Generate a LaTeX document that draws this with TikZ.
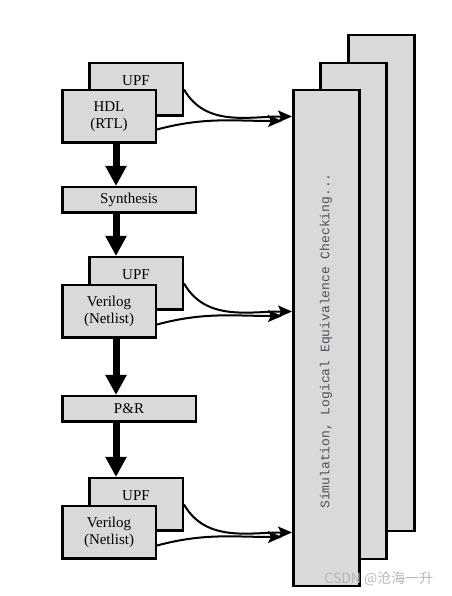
\documentclass[tikz,border=0pt]{standalone}
\usepackage{fontspec}
\setmainfont{Liberation Serif}
\newfontfamily\simfont{Liberation Mono}
\newfontfamily\markfont{Noto Sans CJK SC}
\usetikzlibrary{arrows.meta,calc}
\definecolor{boxgray}{RGB}{217,217,217}
\definecolor{simtext}{RGB}{80,80,92}

\begin{document}
\begin{tikzpicture}[x=1pt,y=1pt,font=\fontsize{15}{17}\selectfont,
    box/.style={draw, line width=2.5pt, fill=boxgray, inner sep=0pt, anchor=north west, align=center},
    filebox/.style={box, minimum width=93.5pt, minimum height=52.5pt},
    upfbox/.style={filebox, label={[anchor=north, inner sep=0pt, yshift=-13pt]north:UPF}},
    stepbox/.style={box, minimum width=133.5pt, minimum height=25.5pt},
    simbox/.style={box, minimum width=66pt, minimum height=496pt},
    flow/.style={line width=7pt, -{Triangle[width=20pt,length=20pt]}},
    feed/.style={line width=2pt, -{Stealth[length=14pt,width=12pt,inset=3pt]}}]
    \useasboundingbox (0,0) rectangle (451,596);
    \coordinate (axis) at (116,0);

    % tool stack
    \node[simbox] (sim3) at (347,562) {};
    \node[simbox] (sim2) at (319,534) {};
    \node[simbox] (sim1) at (292,507) {};
    \node[rotate=90, text=simtext, font=\simfont\fontsize{13}{15}\selectfont] (simtxt) at (326,255)
        {Simulation, Logical Equivalence Checking...};

    % design flow
    \node[upfbox] (upf1) at (88,534) {};
    \node[filebox] (hdl1) at (61,507) {HDL\\(RTL)};
    \node[stepbox] (syn) at (61,410) {Synthesis};
    \node[upfbox] (upf2) at (88,340) {};
    \node[filebox] (ver2) at (61,312) {Verilog\\(Netlist)};
    \node[stepbox] (par) at (61,201) {P\&R};
    \node[upfbox] (upf3) at (88,119) {};
    \node[filebox] (ver3) at (61,91) {Verilog\\(Netlist)};

    \draw[flow] (hdl1.south -| axis) -- (syn.north -| axis);
    \draw[flow] (syn.south -| axis) -- (upf2.north -| axis);
    \draw[flow] (ver2.south -| axis) -- (par.north -| axis);
    \draw[flow] (par.south -| axis) -- (upf3.north -| axis);

    \foreach \u/\v in {upf1/hdl1, upf2/ver2, upf3/ver3} {
        \draw[feed] (\u.east) to[out=-60,in=180] (sim1.west |- \v.east);
        \draw[feed] ($(\v.east)+(0,-13)$) to[out=15,in=180] ($(sim1.west |- \v.east)+(-10,-4.5)$);
    }

    \node[anchor=east, text=black!28, font=\markfont\fontsize{14}{16}\selectfont] (mark) at (437,17) {CSDN @沧海一升};
\end{tikzpicture}
\end{document}
